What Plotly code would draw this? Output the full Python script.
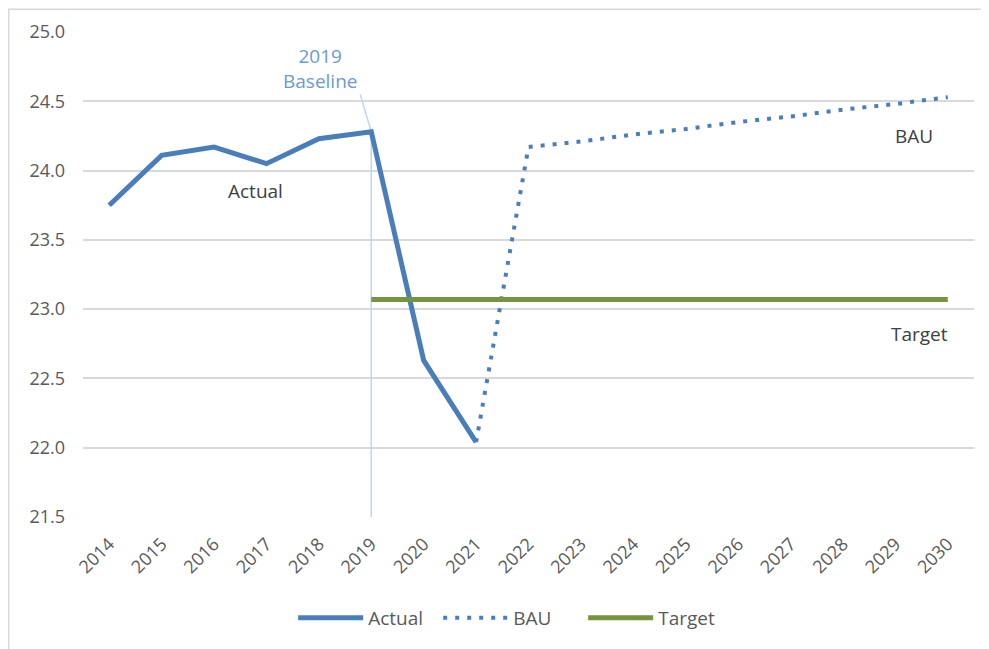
import plotly.graph_objects as go

years = list(range(2014, 2031))
actual_years = [2014, 2015, 2016, 2017, 2018, 2019, 2020, 2021]
actual_vals = [23.75, 24.11, 24.17, 24.05, 24.23, 24.28, 22.63, 22.04]
bau_years = [2021, 2022, 2023, 2024, 2025, 2026, 2027, 2028, 2029, 2030]
bau_vals = [22.04, 24.17, 24.21, 24.26, 24.30, 24.35, 24.39, 24.44, 24.48, 24.53]
target_years = [2019, 2030]
target_vals = [23.07, 23.07]
baseline_year = 2019
baseline_val = 24.28
y_ticks = [21.5, 22.0, 22.5, 23.0, 23.5, 24.0, 24.5, 25.0]

BLUE = "#4a7ebb"
GREEN = "#77933c"
FONT = "Open Sans"

fig = go.Figure()
fig.add_trace(go.Scatter(x=actual_years, y=actual_vals, mode="lines", name="Actual",
                         line=dict(color=BLUE, width=5)))
fig.add_trace(go.Scatter(x=bau_years, y=bau_vals, mode="lines", name="BAU",
                         line=dict(color=BLUE, width=4, dash="4px,8px")))
fig.add_trace(go.Scatter(x=target_years, y=target_vals, mode="lines", name="Target",
                         line=dict(color=GREEN, width=5)))

# baseline vertical line
fig.add_shape(type="line", xref="x", yref="y", x0=baseline_year, x1=baseline_year,
              y0=y_ticks[0], y1=baseline_val, line=dict(color="#bdd7ee", width=1.5), layer="between")
# leader line
fig.add_shape(type="line", xref="x", yref="y", x0=2018.79, y0=24.55, x1=baseline_year, y1=baseline_val,
              line=dict(color="#bdd7ee", width=1.5), layer="between")
# outer border
fig.add_shape(type="rect", xref="paper", yref="paper", x0=-0.0833, x1=1.03, y0=-0.30, y1=1.047,
              line=dict(color="#d9d9d9", width=1.5), fillcolor="rgba(0,0,0,0)")

ann_font = dict(family=FONT, size=19, color="#404040")
fig.add_annotation(x=2016.8, y=23.85, text="Actual", showarrow=False, font=ann_font)
fig.add_annotation(x=2029.36, y=24.25, text="BAU", showarrow=False, font=ann_font)
fig.add_annotation(x=2029.46, y=22.82, text="Target", showarrow=False, font=ann_font)
fig.add_annotation(x=2018.03, y=24.74, text="2019<br>Baseline", showarrow=False,
                   font=dict(family=FONT, size=19, color="#6a9bd1"))

fig.update_layout(
    width=981, height=641,
    margin=dict(l=75, r=15, t=24, b=132),
    paper_bgcolor="white", plot_bgcolor="white",
    font=dict(family=FONT, color="#595959"),
    showlegend=True,
    legend=dict(orientation="h", x=0.48, xanchor="center", y=-0.208, yanchor="middle",
                itemwidth=65, entrywidth=65,
                font=dict(family=FONT, size=19, color="#595959")),
    xaxis=dict(range=[2013.5, 2030.5], tickmode="array", tickvals=years,
               ticktext=[str(y) for y in years], tickangle=-45, showgrid=False,
               zeroline=False, showline=False, ticklabelstandoff=12,
               tickfont=dict(size=18, color="#595959")),
    yaxis=dict(range=[21.5, 25.0], tickmode="array", tickvals=y_ticks,
               ticktext=[f"{v:.1f}" for v in y_ticks], showgrid=True, gridcolor="#d9d9d9",
               gridwidth=1.5, zeroline=False, showline=False, ticklabelstandoff=17,
               tickfont=dict(size=18, color="#595959")),
)

fig.write_html("out.html")
